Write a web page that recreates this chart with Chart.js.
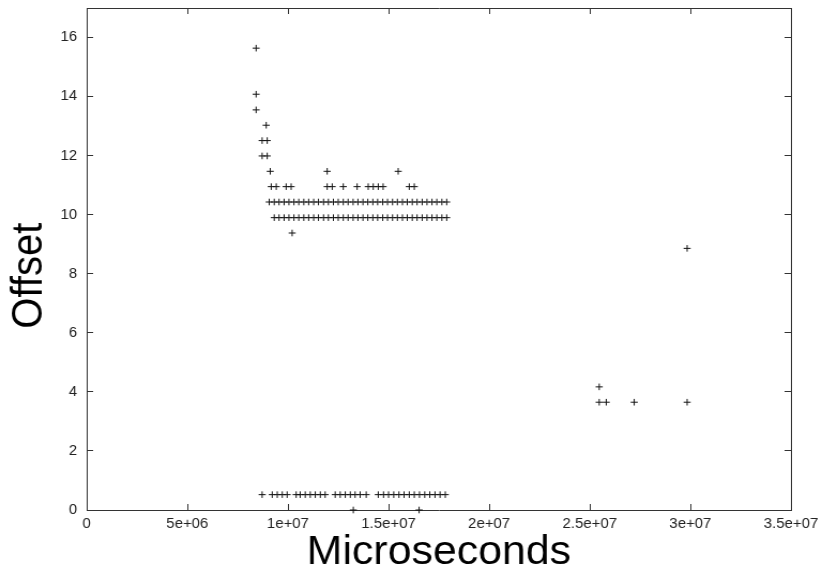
<!DOCTYPE html>
<html>
<head>
<meta charset="utf-8">
<script src="https://cdn.jsdelivr.net/npm/chart.js@4/dist/chart.umd.min.js"></script>
<style>
    html, body { margin: 0; padding: 0; background: #fff; }
    #offsetChart { display: block; }
</style>
</head>
<body>
<!-- drawn at 768 wide and stretched out to the page width -->
<canvas id="offsetChart" width="768" height="576" style="width: 822px; height: 576px;"></canvas>
<script>
// offset levels and the times (in millions of microseconds) seen at each level
const offsets = [15.64, 14.08, 13.55, 13.03, 12.51, 11.99, 11.47, 10.95, 10.43, 9.90, 9.38, 8.86, 4.17, 3.65, 0.52, 0];
const microsByOffset = [
    [8.42],
    [8.42],
    [8.42],
    [8.92],
    [8.72, 8.97],
    [8.72, 8.97],
    [9.12, 11.95, 15.48],
    [9.17, 9.42, 9.91, 10.16, 11.95, 12.20, 12.75, 13.44, 13.99, 14.24, 14.49, 14.73, 16.03, 16.28],
    [9.07, 9.32, 9.56, 9.81, 10.05, 10.30, 10.54, 10.79, 11.03, 11.28, 11.52, 11.77, 12.01, 12.26, 12.50,
        12.75, 12.99, 13.24, 13.48, 13.73, 13.97, 14.22, 14.46, 14.71, 14.95, 15.20, 15.44, 15.69, 15.93,
        16.18, 16.42, 16.67, 16.91, 17.16, 17.40, 17.65, 17.89],
    [9.32, 9.56, 9.81, 10.05, 10.30, 10.54, 10.79, 11.03, 11.28, 11.52, 11.77, 12.01, 12.26, 12.50, 12.75,
        12.99, 13.24, 13.48, 13.73, 13.97, 14.22, 14.46, 14.71, 14.95, 15.20, 15.44, 15.69, 15.93, 16.18,
        16.42, 16.67, 16.91, 17.16, 17.40, 17.65, 17.89],
    [10.21],
    [29.84],
    [25.47],
    [25.47, 25.82, 27.21, 29.84],
    [8.72, 9.22, 9.47, 9.72, 9.96, 10.41, 10.61, 10.86, 11.11, 11.36, 11.61, 11.85, 12.35, 12.60, 12.85,
        13.10, 13.34, 13.59, 13.89, 14.49, 14.75, 15.00, 15.26, 15.52, 15.77, 16.03, 16.28, 16.54, 16.80,
        17.05, 17.31, 17.56, 17.82],
    [13.25, 16.52]
];

const xTickValues = [0, 5e6, 1e7, 1.5e7, 2e7, 2.5e7, 3e7, 3.5e7];
const xTickLabels = ['0', '5e+06', '1e+07', '1.5e+07', '2e+07', '2.5e+07', '3e+07', '3.5e+07'];
const yTickValues = [0, 2, 4, 6, 8, 10, 12, 14, 16];
const yTickLabels = ['0', '2', '4', '6', '8', '10', '12', '14', '16'];

let points = [];
offsets.forEach(function (offset, i) {
    microsByOffset[i].forEach(function (t) {
        points.push({x: t * 1e6, y: offset});
    });
});

const tickFont = {family: 'Liberation Sans, Arial, sans-serif', size: 14};
const titleFont = {family: 'Liberation Sans, Arial, sans-serif', size: 40};
const frameColor = '#333';

function fixedTicks(values) {
    return function (scale) {
        scale.ticks = values.map(v => ({value: v}));
    };
}

// set the box size and drop the extra room kept for overhanging labels
function boxSize(w, h) {
    return function (scale) {
        if (w !== null) scale.width = w;
        if (h !== null) scale.height = h;
        scale.paddingTop = 0;
        scale.paddingBottom = 0;
        scale.paddingLeft = 0;
        scale.paddingRight = 0;
    };
}

// gnuplot style frame: ticks point into the plot and are mirrored
function axis(extra) {
    return Object.assign({
        type: 'linear',
        border: {display: true, color: frameColor, width: 1},
        grid: {drawOnChartArea: false, drawTicks: true, tickLength: -6, tickColor: frameColor, tickWidth: 1},
    }, extra);
}

const ctx = document.getElementById('offsetChart').getContext('2d');
let scatterChart = new Chart(ctx, {
    type: 'scatter',
    data: {
        datasets: [{
            label: 'Offset',
            data: points,
            pointStyle: 'cross',
            pointRadius: 3.3,
            pointHoverRadius: 3.3,
            borderColor: '#111',
            backgroundColor: '#111',
            borderWidth: 1,
            clip: false,
        }]
    },
    options: {
        responsive: false,
        animation: false,
        devicePixelRatio: 1,
        layout: {padding: {left: 0, right: 29, top: 8, bottom: 0}},
        plugins: {
            legend: {display: false},
            tooltip: {enabled: false},
        },
        scales: {
            x: axis({
                position: 'bottom',
                min: 0,
                max: 3.5e7,
                afterBuildTicks: fixedTicks(xTickValues),
                afterFit: boxSize(null, 66),
                ticks: {
                    autoSkip: false, maxRotation: 0, padding: 12,
                    color: '#222', font: tickFont,
                    callback: (value, index) => xTickLabels[index],
                },
                title: {display: true, text: 'Microseconds', color: '#000', font: titleFont, padding: {top: 0, bottom: -1}},
            }),
            y: axis({
                position: 'left',
                min: 0,
                max: 17,
                afterBuildTicks: fixedTicks(yTickValues),
                afterFit: boxSize(81, null),
                ticks: {
                    padding: 15, color: '#222', font: tickFont,
                    callback: (value, index) => yTickLabels[index],
                },
                title: {display: true, text: 'Offset   ', color: '#000', font: titleFont, padding: {top: 4, bottom: 0}},
            }),
            x2: axis({
                position: 'top',
                min: 0,
                max: 3.5e7,
                afterBuildTicks: fixedTicks(xTickValues),
                afterFit: boxSize(null, 0),
                ticks: {display: false},
            }),
            y2: axis({
                position: 'right',
                min: 0,
                max: 17,
                afterBuildTicks: fixedTicks(yTickValues),
                afterFit: boxSize(0, null),
                ticks: {display: false},
            }),
        }
    }
});
</script>
</body>
</html>
